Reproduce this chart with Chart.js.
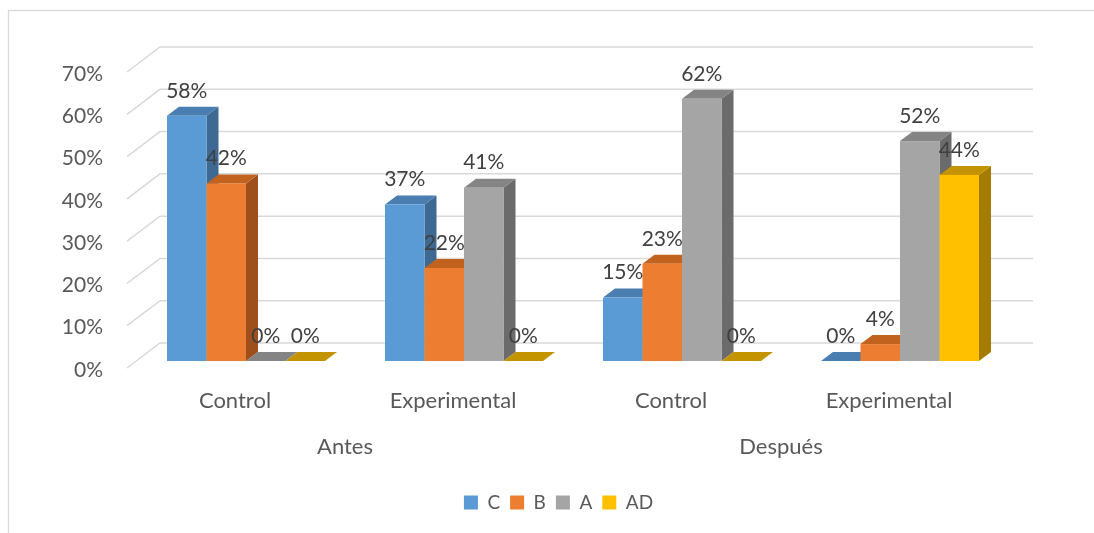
<!DOCTYPE html>
<html>
<head>
<meta charset="utf-8">
<script src="https://cdn.jsdelivr.net/npm/chart.js@4"></script>
<style>
html, body { margin: 0; padding: 0; background: #fff; }
#wrap { width: 1094px; height: 533px; }
</style>
</head>
<body>
<div id="wrap"><canvas id="myChart"></canvas></div>
<script>
// Datos
var groups = ['Antes', 'Después'];
var categories = ['Control', 'Experimental', 'Control', 'Experimental'];
var seriesNames = ['C', 'B', 'A', 'AD'];
var valuesC = [58, 37, 15, 0];
var valuesB = [42, 22, 23, 4];
var valuesA = [0, 41, 62, 52];
var valuesAD = [0, 0, 0, 44];
var yMax = 70;
var yStep = 10;

// Colores (frente, tapa, lateral)
var frontColors = ['#5b9bd5', '#ed7d31', '#a5a5a5', '#ffc000'];
var topColors = ['#4a7db0', '#c2621f', '#848484', '#c49300'];
var sideColors = ['#3d6992', '#9e4f1b', '#6b6b6b', '#a47c00'];

var FONT = 'Lato, "Open Sans", sans-serif';
var TEXT = '#595959';

// profundidad de barras y de paredes
var BAR_DX = 12, BAR_DY = -9;
var BACK_DX = 23, BACK_DY = -18;
var FRONT_DX = -10, FRONT_DY = 7;

var box3d = {
    id: 'box3d',
    afterLayout: function(chart) {
        // la leyenda de Excel queda centrada en el área de trazado
        var lg = chart.legend;
        if (lg) { lg.left += 54; lg.right += 54; }
    },
    beforeDraw: function(chart) {
        var c = chart.ctx;
        c.save();
        c.strokeStyle = '#d9d9d9';
        c.lineWidth = 1.3;
        c.strokeRect(8.5, 10.5, 1200, 700);
        c.restore();
    },
    beforeDatasetsDraw: function(chart) {
        var c = chart.ctx, a = chart.chartArea, ys = chart.scales.y;
        c.save();
        c.strokeStyle = '#d9d9d9';
        c.lineWidth = 1.5;
        ys.ticks.forEach(function(t) {
            var yv = ys.getPixelForValue(t.value);
            c.beginPath();
            c.moveTo(a.left + FRONT_DX, yv + FRONT_DY);
            c.lineTo(a.left + BACK_DX, yv + BACK_DY);
            c.lineTo(a.right + BACK_DX + 1, yv + BACK_DY);
            c.stroke();
        });
        c.restore();
    },
    beforeDatasetDraw: function() {
        return false;
    },
    afterDatasetsDraw: function(chart) {
        var c = chart.ctx;
        c.save();
        chart.data.datasets.forEach(function(ds, i) {
            var meta = chart.getDatasetMeta(i);
            meta.data.forEach(function(bar) {
                var p = bar.getProps(['x', 'y', 'base', 'width'], true);
                var l = p.x - p.width / 2, r = p.x + p.width / 2, t = p.y, b = p.base;
                if (b - t > 0.5) {
                    c.fillStyle = sideColors[i];
                    c.beginPath();
                    c.moveTo(r, t);
                    c.lineTo(r + BAR_DX, t + BAR_DY);
                    c.lineTo(r + BAR_DX, b + BAR_DY);
                    c.lineTo(r, b);
                    c.closePath();
                    c.fill();
                }
                c.fillStyle = topColors[i];
                c.beginPath();
                c.moveTo(l, t);
                c.lineTo(l + BAR_DX, t + BAR_DY);
                c.lineTo(r + BAR_DX, t + BAR_DY);
                c.lineTo(r, t);
                c.closePath();
                c.fill();
                if (b - t > 0.5) {
                    c.fillStyle = frontColors[i];
                    c.fillRect(l, t, r - l, b - t);
                }
            });
        });
        // etiquetas de datos
        c.font = '21px ' + FONT;
        c.fillStyle = '#404040';
        c.textAlign = 'center';
        c.textBaseline = 'middle';
        chart.data.datasets.forEach(function(ds, i) {
            var meta = chart.getDatasetMeta(i);
            meta.data.forEach(function(bar, j) {
                var p = bar.getProps(['x', 'y'], true);
                c.fillText(ds.data[j] + '%', p.x, p.y - 25);
            });
        });
        c.restore();
    }
};

var ctx = document.getElementById('myChart').getContext('2d');
var myChart = new Chart(ctx, {
    type: 'bar',
    data: {
        labels: categories,
        datasets: [
            { label: seriesNames[0], data: valuesC, backgroundColor: frontColors[0] },
            { label: seriesNames[1], data: valuesB, backgroundColor: frontColors[1] },
            { label: seriesNames[2], data: valuesA, backgroundColor: frontColors[2] },
            { label: seriesNames[3], data: valuesAD, backgroundColor: frontColors[3] }
        ]
    },
    options: {
        responsive: true,
        maintainAspectRatio: false,
        animation: false,
        categoryPercentage: 158 / 218,
        barPercentage: 1,
        layout: { padding: { left: 0, right: 85, top: 65, bottom: 11 } },
        plugins: {
            tooltip: { enabled: false },
            legend: {
                position: 'bottom',
                labels: {
                    color: TEXT,
                    font: { family: FONT, size: 19 },
                    boxWidth: 14,
                    boxHeight: 14,
                    padding: 10
                }
            }
        },
        scales: {
            y: {
                min: 0,
                max: yMax,
                grid: { display: false, drawTicks: false },
                border: { display: false },
                ticks: {
                    stepSize: yStep,
                    padding: 34,
                    labelOffset: 9,
                    color: TEXT,
                    font: { family: FONT, size: 21 },
                    callback: function(v) { return v + '%'; }
                },
                afterFit: function(s) { s.width = 137; }
            },
            x: {
                grid: { display: false, drawTicks: false },
                border: { display: false },
                ticks: {
                    padding: 27,
                    labelOffset: -11,
                    autoSkip: false,
                    maxRotation: 0,
                    color: TEXT,
                    font: { family: FONT, size: 22 }
                },
                afterFit: function(s) { s.height = 62; }
            },
            x2: {
                type: 'category',
                labels: groups,
                position: 'bottom',
                offset: true,
                grid: { display: false, drawTicks: false },
                border: { display: false },
                ticks: {
                    padding: 11,
                    labelOffset: -10,
                    autoSkip: false,
                    maxRotation: 0,
                    color: TEXT,
                    font: { family: FONT, size: 22 }
                },
                afterFit: function(s) { s.height = 60; }
            }
        }
    },
    plugins: [box3d]
});
</script>
</body>
</html>
